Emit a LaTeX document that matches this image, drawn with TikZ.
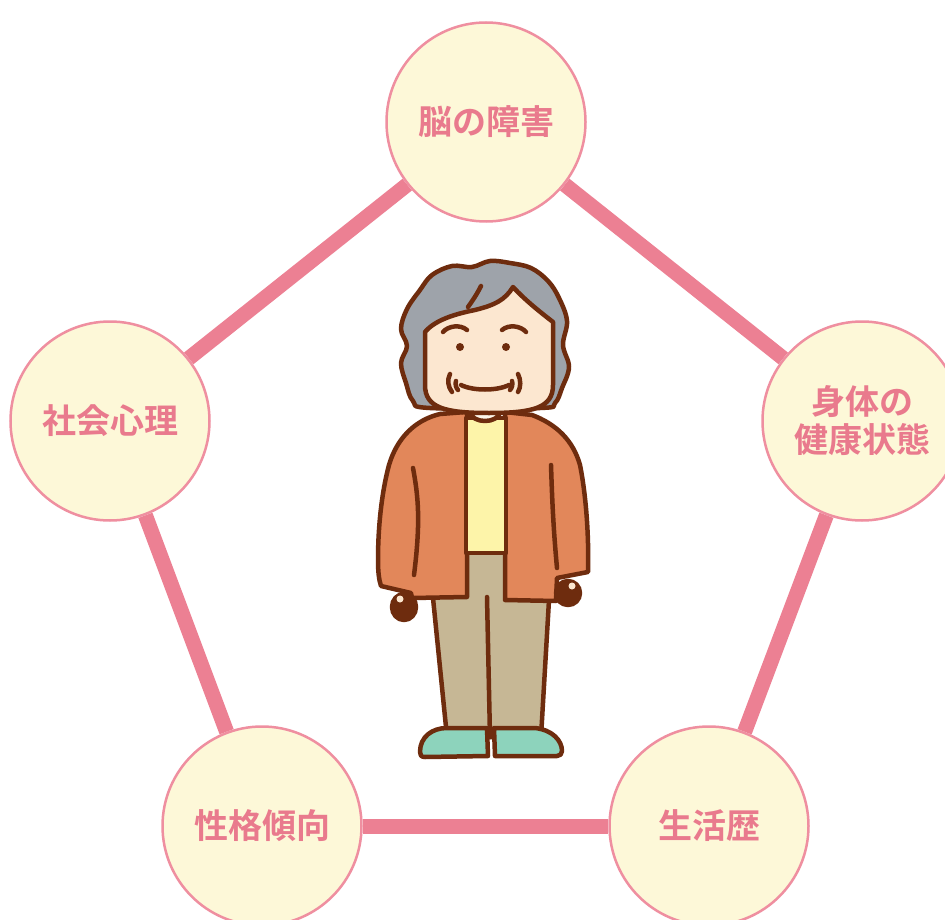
\documentclass[tikz,border=0pt]{standalone}
\usepackage{fontspec}
\newfontfamily\jp{Noto Sans CJK JP}[BoldFont={* Bold}]
\usetikzlibrary{backgrounds}

\definecolor{ringfill}{HTML}{FDF8D8}
\definecolor{ringline}{HTML}{EF8FA0}
\definecolor{linkpink}{HTML}{EC8093}
\definecolor{labelpink}{HTML}{E97A8D}
\definecolor{ink}{HTML}{6E2C0E}
\definecolor{hair}{HTML}{9EA3AA}
\definecolor{skin}{HTML}{FCE7D0}
\definecolor{coat}{HTML}{E2875A}
\definecolor{shirt}{HTML}{FDF4A9}
\definecolor{slacks}{HTML}{C6B795}
\definecolor{shoe}{HTML}{8DD3BC}
\definecolor{neck}{HTML}{FDF6EA}

\tikzset{
  factor/.style={circle, draw=ringline, line width=2.5pt, fill=ringfill,
    minimum size=199pt, inner sep=0pt, align=center, text=labelpink,
    font=\jp\bfseries\fontsize{34pt}{38pt}\selectfont},
  link/.style={draw=linkpink, line width=15pt},
  outline/.style={draw=ink, line width=4.5pt, line join=round, line cap=round},
  stroke/.style={draw=ink, line width=4.5pt, line cap=round},
}

\begin{document}
\begin{tikzpicture}[x=1pt, y=-1pt]
\clip (0,0) rectangle (945,920);

% the five factors around the person
\node[factor] (brain)   at (486,122) {脳の障害};
\node[factor] (body)    at (862,421) {身体の\\健康状態};
\node[factor] (social)  at (110,421) {社会心理};
\node[factor] (persona) at (262,826) {性格傾向};
\node[factor] (history) at (709,826) {生活歴};

% white sheet and pentagon of links behind the circles
\begin{pgfonlayer}{background}
  \fill[white] (0,0) rectangle (945,920);
  \draw[link] (brain) -- (body);
  \draw[link] (body) -- (history);
  \draw[link] (history) -- (persona);
  \draw[link] (persona) -- (social);
  \draw[link] (social) -- (brain);
\end{pgfonlayer}

% ---- elderly woman ----
% hair
\filldraw[outline, fill=hair] plot[smooth cycle, tension=0.6] coordinates {
  (420,290) (432,275) (452,266) (472,267) (490,261) (510,263) (531,268)
  (548,281) (559,298) (567,321) (563,345) (569,367) (562,388) (555,403)
  (540,408) (430,408) (413,401) (406,383) (401,363) (407,346) (401,329) (407,309)};

% slacks
\filldraw[outline, fill=slacks] (465,550) -- (508,550) -- (549,600) -- (541,737)
  -- (447,737) -- (433,598) -- cycle;
\draw[stroke] (487,597) -- (490,737);

% shoes
\filldraw[outline, fill=shoe] (420,752) .. controls (420,737) and (432,728) .. (447,728)
  -- (487,728) -- (488,756) -- (425,757) .. controls (421,757) and (420,755) .. (420,752) -- cycle;
\filldraw[outline, fill=shoe] (494,728) -- (535,728) .. controls (553,730) and (562,741) .. (562,751)
  .. controls (562,754) and (560,756) .. (557,756) -- (495,756) -- cycle;

% coat, left and right halves
\filldraw[outline, fill=coat] (466,412) -- (440,414) .. controls (415,420) and (397,438) .. (389,465)
  .. controls (381,495) and (378,530) .. (378,560) .. controls (378,572) and (379,580) .. (381,586)
  -- (411,593) -- (412,598) -- (467,597) -- (467,412) -- cycle;
\filldraw[outline, fill=coat] (505,412) -- (532,415) .. controls (556,424) and (573,440) .. (580,465)
  .. controls (586,495) and (589,535) .. (588,572) -- (557,578) -- (556,601) -- (505,600) -- (505,412) -- cycle;
% sleeve creases
\draw[stroke] (413,468) .. controls (418,495) and (421,520) .. (414,575);
\draw[stroke] (551,465) .. controls (552,495) and (553,525) .. (557,568);

% hands
\filldraw[outline, fill=ink] (404,607) ellipse[x radius=12pt, y radius=13pt];
\fill[skin] (400,599) circle[radius=3.5pt];
\filldraw[outline, fill=ink] (568,593) ellipse[x radius=12pt, y radius=12pt];
\fill[skin] (572,586) circle[radius=3.5pt];

% shirt and neck
\filldraw[outline, fill=shirt] (466,418) -- (506,418) -- (506,553) -- (466,553) -- cycle;
\filldraw[outline, fill=neck] (470,412) .. controls (472,424) and (498,424) .. (500,412) -- cycle;

% face
\filldraw[outline, fill=skin] (425,332) -- (425,385) .. controls (425,408) and (445,413) .. (489,413)
  .. controls (533,413) and (553,408) .. (553,385) -- (553,322)
  .. controls (540,312) and (525,300) .. (513,287)
  .. controls (505,300) and (495,305) .. (475,310)
  .. controls (455,314) and (435,320) .. (425,332) -- cycle;
\draw[stroke] (481,286) .. controls (477,294) and (473,300) .. (468,307);

% brows, eyes, smile, wrinkles
\draw[stroke] (443,332) .. controls (448,326) and (460,324) .. (467,330);
\draw[stroke] (502,330) .. controls (509,324) and (521,326) .. (526,332);
\fill[ink] (460,347) circle[radius=4pt];
\fill[ink] (506,347) circle[radius=4pt];
\draw[stroke] (461,385) .. controls (473,391) and (497,391) .. (509,385);
\draw[stroke] (450,374) .. controls (447,380) and (448,387) .. (452,392);
\draw[stroke] (456,381) .. controls (455,384) and (456,388) .. (458,390);
\draw[stroke] (518,374) .. controls (521,380) and (521,387) .. (518,392);
\draw[stroke] (512,381) .. controls (513,384) and (512,388) .. (510,390);
\end{tikzpicture}
\end{document}
